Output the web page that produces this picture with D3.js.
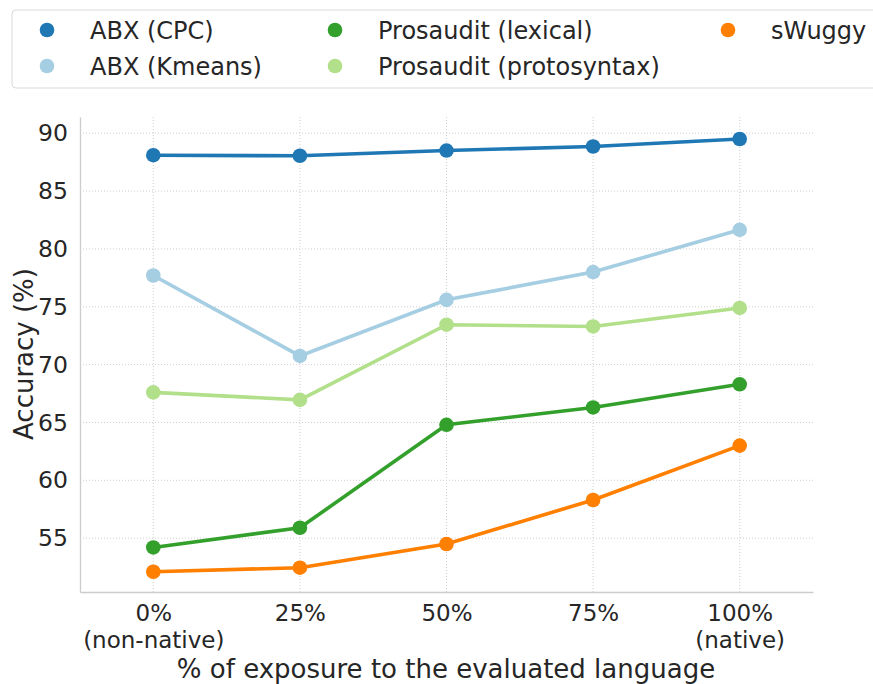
<!DOCTYPE html>
<html><head><meta charset="utf-8">
<script src="https://cdn.jsdelivr.net/npm/d3@7"></script>
<style>body{margin:0;background:#fff;} text{font-family:"DejaVu Sans",sans-serif;fill:#262626;}</style>
</head><body>
<svg id="c" width="873" height="684"></svg>
<script>
const categories = ["0%", "25%", "50%", "75%", "100%"];
const subLabels = ["(non-native)", "", "", "", "(native)"];
const yTicks = [55, 60, 65, 70, 75, 80, 85, 90];
const seriesNames = ["ABX (CPC)", "ABX (Kmeans)", "Prosaudit (lexical)", "Prosaudit (protosyntax)", "sWuggy"];
const seriesColors = ["#1f78b4", "#a6cee3", "#33a02c", "#b2df8a", "#ff7f00"];
const abxCpc = [88.1, 88.05, 88.5, 88.85, 89.5];
const abxKmeans = [77.7, 70.75, 75.6, 78.0, 81.65];
const prosLexical = [54.2, 55.9, 64.8, 66.3, 68.3];
const prosProto = [67.6, 66.95, 73.45, 73.3, 74.9];
const sWuggy = [52.1, 52.45, 54.5, 58.3, 63.0];
const seriesValues = [abxCpc, abxKmeans, prosLexical, prosProto, sWuggy];

const svg = d3.select("#c");
const x = d3.scaleLinear().domain([-0.5, 4.5]).range([80, 813]);
const y = d3.scaleLinear().domain([50.35, 91.4]).range([592, 117]);

// grid
const g = svg.append("g");
g.selectAll(".hg").data(yTicks).enter().append("line")
  .attr("x1", 80).attr("x2", 813).attr("y1", d => y(d)).attr("y2", d => y(d))
  .attr("stroke", "#cfcfcf").attr("stroke-width", 1).attr("stroke-dasharray", "1,2");
g.selectAll(".vg").data(categories).enter().append("line")
  .attr("x1", (d, i) => x(i)).attr("x2", (d, i) => x(i)).attr("y1", 117).attr("y2", 592)
  .attr("stroke", "#cfcfcf").attr("stroke-width", 1).attr("stroke-dasharray", "1,2");

// axes
const yAxis = d3.axisLeft(y).tickValues(yTicks).tickSize(0).tickPadding(12);
const ya = svg.append("g").attr("transform", "translate(80,0)").call(yAxis);
ya.select(".domain").attr("stroke", "#cccccc").attr("stroke-width", 1.3);
ya.selectAll("text").style("font-size", "23.5px").style("font-family", "DejaVu Sans").attr("fill", "#262626");

const xAxis = d3.axisBottom(x).tickValues([0, 1, 2, 3, 4]).tickFormat(i => categories[i]).tickSize(0).tickPadding(0);
const xa = svg.append("g").attr("transform", "translate(0,592)").call(xAxis);
xa.select(".domain").attr("stroke", "#cccccc").attr("stroke-width", 1.3);
xa.selectAll(".tick text").each(function (i) {
  const t = d3.select(this).attr("y", 29).attr("dy", null).text(null)
    .style("font-size", "23px").style("font-family", "DejaVu Sans").attr("fill", "#262626");
  t.append("tspan").attr("x", 0).attr("y", 29).text(categories[i]);
  if (subLabels[i]) t.append("tspan").attr("x", 0).attr("y", 56).text(subLabels[i]);
});

svg.append("text").attr("x", 446).attr("y", 678).attr("text-anchor", "middle")
  .style("font-size", "26px").text("% of exposure to the evaluated language");
svg.append("text").attr("transform", "translate(33,354) rotate(-90)").attr("text-anchor", "middle")
  .style("font-size", "26px").text("Accuracy (%)");

// lines
const line = d3.line().x((d, i) => x(i)).y(d => y(d));
seriesValues.forEach((vals, k) => {
  svg.append("path").datum(vals).attr("d", line).attr("fill", "none")
    .attr("stroke", seriesColors[k]).attr("stroke-width", 3.6);
  svg.selectAll(".pt" + k).data(vals).enter().append("circle")
    .attr("cx", (d, i) => x(i)).attr("cy", d => y(d)).attr("r", 7.3)
    .attr("fill", seriesColors[k]);
});

// legend
svg.append("rect").attr("x", 12).attr("y", 10).attr("width", 880).attr("height", 78)
  .attr("rx", 4).attr("fill", "#fff").attr("stroke", "#d9d9d9").attr("stroke-width", 1);
const legPos = [[47, 30], [47, 66], [335, 30], [335, 66], [728, 30]];
seriesNames.forEach((n, k) => {
  const [lx, ly] = legPos[k];
  svg.append("circle").attr("cx", lx).attr("cy", ly).attr("r", 7.3).attr("fill", seriesColors[k]);
  svg.append("text").attr("x", lx + 43).attr("y", ly).attr("dy", "0.36em")
    .style("font-size", "24px").text(n);
});
</script>
</body></html>
